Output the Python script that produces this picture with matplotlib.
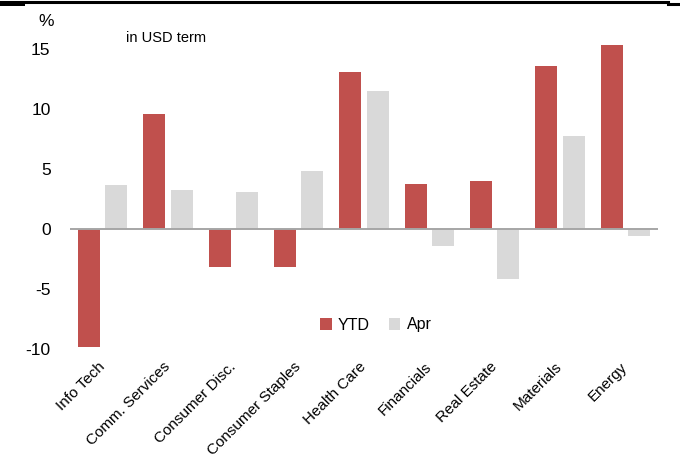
import matplotlib
matplotlib.use("Agg")
import matplotlib.pyplot as plt
from matplotlib.lines import Line2D
import numpy as np

plt.rcParams['font.family'] = ['Liberation Sans', 'DejaVu Sans']

categories = ["Info Tech", "Comm. Services", "Consumer Disc.", "Consumer Staples",
              "Health Care", "Financials", "Real Estate", "Materials", "Energy"]
ytd = [-9.8, 9.6, -3.1, -3.1, 13.1, 3.8, 4.05, 13.65, 15.4]
apr = [3.7, 3.3, 3.1, 4.9, 11.5, -1.35, -4.1, 7.8, -0.55]
yticks = [-10, -5, 0, 5, 10, 15]

W, H = 680, 462
fig = plt.figure(figsize=(W / 100, H / 100), dpi=100)

# axes placement (pixels)
x0, x1 = 70, 658
zero_px = 229.3
ppu = 12.0
ymin, ymax = -10, 16
y_bot_px = zero_px - ymin * ppu
y_top_px = zero_px - ymax * ppu
ax = fig.add_axes([x0 / W, 1 - y_bot_px / H, (x1 - x0) / W, (y_bot_px - y_top_px) / H])

x = np.arange(len(categories))
bw = 0.337
off = 0.207
ax.bar(x - off, ytd, bw, color="#C0504D", label="YTD", zorder=2)
ax.bar(x + off, apr, bw, color="#D9D9D9", label="Apr", zorder=2)

ax.set_xlim(-0.5, len(categories) - 0.5)
ax.set_ylim(ymin, ymax)
ax.axhline(0, color="#A6A6A6", lw=1.4, zorder=3)

for s in ax.spines.values():
    s.set_visible(False)

ax.set_yticks(yticks)
ax.set_yticklabels([str(v) for v in yticks], fontsize=12.5)
ax.tick_params(axis="y", length=0, pad=14)

ax.set_xticks(x)
ax.set_xticklabels(categories, fontsize=11, rotation=45, ha="right",
                   va="center", rotation_mode="anchor")
ax.tick_params(axis="x", length=0, pad=11)

fig.text(46 / W, 1 - 22 / H, "%", fontsize=12.5, ha="center", va="center")
fig.text(126 / W, 1 - 38 / H, "in USD term", fontsize=10.5, ha="left", va="center")

fig.legend(loc="center", bbox_to_anchor=(376 / W, 1 - 325 / H), ncol=2,
           frameon=False, fontsize=11.5, handlelength=0.7, handleheight=0.7,
           handletextpad=0.4, columnspacing=1.2)

# top border lines
fig.add_artist(Line2D([0, 668 / W], [1 - 1.5 / H, 1 - 1.5 / H], color="black",
                      lw=2.2, transform=fig.transFigure))
fig.add_artist(Line2D([0, 22 / W], [1 - 2.5 / H, 1 - 2.5 / H], color="black",
                      lw=3.6, transform=fig.transFigure))
fig.add_artist(Line2D([668 / W, 1], [1 - 4 / H, 1 - 4 / H], color="black",
                      lw=2.2, transform=fig.transFigure))

fig.savefig("out.png", dpi=100)
